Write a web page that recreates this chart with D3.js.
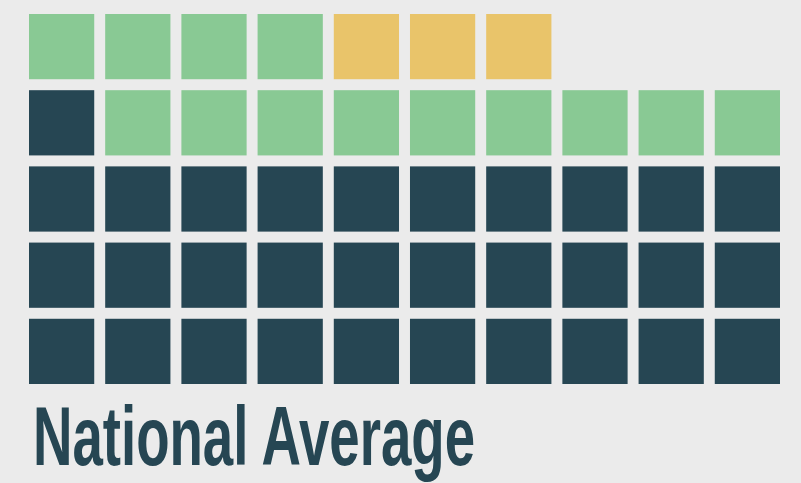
<!DOCTYPE html>
<html>
<head>
<meta charset="utf-8">
<script src="https://cdn.jsdelivr.net/npm/d3@7"></script>
<style>
  html, body { margin: 0; padding: 0; background: #ebebeb; }
  svg { display: block; }
</style>
</head>
<body>
<div id="chart"></div>
<script>
// waffle data: squares per group, filled from the bottom row up
const categories = ["Group A", "Group B", "Group C"];
const counts = [31, 13, 3];
const colours = ["#264653", "#89c994", "#e9c46a"];
const title = "National Average";
const nCols = 10, nRows = 5;

const width = 801, height = 483;

const svg = d3.select("#chart").append("svg")
  .attr("width", width)
  .attr("height", height);

svg.append("rect")
  .attr("width", width)
  .attr("height", height)
  .attr("fill", "#ebebeb");

const x = d3.scaleBand()
  .domain(d3.range(nCols))
  .range([29, 780])
  .paddingInner(0.144);

const y = d3.scaleBand()
  .domain(d3.range(nRows))
  .range([384, 14]) // row 0 at the bottom
  .paddingInner(0.144);

const colour = d3.scaleOrdinal().domain(categories).range(colours);

// expand counts into one cell per square
let cells = [];
categories.forEach(function (c, i) {
  for (let k = 0; k < counts[i]; k++) cells.push({ cat: c });
});
cells.forEach(function (d, i) {
  d.col = i % nCols;
  d.row = Math.floor(i / nCols);
});

svg.append("g")
  .selectAll("rect")
  .data(cells)
  .enter().append("rect")
  .attr("x", d => x(d.col))
  .attr("y", d => y(d.row))
  .attr("width", x.bandwidth())
  .attr("height", y.bandwidth())
  .attr("fill", d => colour(d.cat));

svg.append("text")
  .attr("x", 33)
  .attr("y", 465)
  .attr("font-family", "'Liberation Sans', Arial, sans-serif")
  .attr("font-weight", "bold")
  .attr("font-size", 84)
  .attr("textLength", 442)
  .attr("lengthAdjust", "spacingAndGlyphs")
  .attr("fill", "#264653")
  .text(title);
</script>
</body>
</html>
